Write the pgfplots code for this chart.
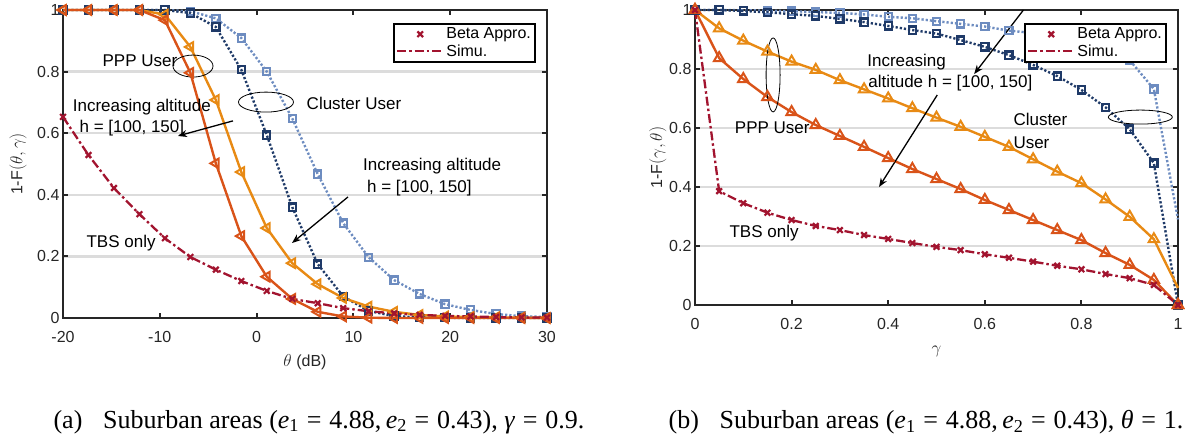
\documentclass[border=0pt]{standalone}
\usepackage{fontspec}
\setmainfont{Liberation Sans}
\newfontfamily\capfont{Liberation Serif}
\usepackage{pgfplots}
\usepackage{pgfplotstable}
\pgfplotsset{compat=1.18}
\usetikzlibrary{arrows.meta}
\definecolor{tbs}{HTML}{A2142F}
\definecolor{ppa}{HTML}{D95319}
\definecolor{ppb}{HTML}{E88A14}
\definecolor{cla}{HTML}{1F3A68}
\definecolor{clb}{HTML}{6D8CC0}
\definecolor{axc}{HTML}{262626}
\definecolor{gridc}{HTML}{DCDCDC}

\pgfplotstableread{
th tbs pa pb ca cb
-20 0.653 1 1 1 1
-17.368 0.529 1 1 1 1
-14.737 0.422 1 1 1 1
-12.105 0.337 1 1 1 1
-9.474 0.259 0.967 0.985 1 1
-6.842 0.198 0.796 0.880 0.990 0.996
-4.211 0.157 0.502 0.708 0.945 0.973
-1.579 0.120 0.266 0.474 0.806 0.909
1.053 0.088 0.134 0.292 0.594 0.800
3.684 0.062 0.062 0.178 0.360 0.648
6.316 0.048 0.020 0.110 0.175 0.467
8.947 0.032 0.005 0.065 0.070 0.308
11.579 0.022 0.001 0.037 0.023 0.197
14.211 0.015 0 0.020 0.006 0.123
16.842 0.010 0 0.010 0.002 0.078
19.474 0.007 0 0.005 0.001 0.045
22.105 0.005 0 0.003 0 0.026
24.737 0.003 0 0.002 0 0.013
27.368 0.002 0 0.001 0 0.006
30 0.001 0 0 0 0.003
}\lefttab

\pgfplotstableread{
g tbs pa pb pbl ca cb cbl
0 1 1 1 1 1 1 1
0.05 0.386 0.837 0.938 0.938 1.000 1.000 1.000
0.1 0.345 0.766 0.896 0.896 0.997 0.999 0.999
0.15 0.313 0.705 0.859 0.859 0.992 0.998 0.998
0.2 0.288 0.654 0.825 0.825 0.986 0.996 0.996
0.25 0.268 0.610 0.797 0.797 0.980 0.993 0.993
0.3 0.254 0.573 0.762 0.762 0.970 0.990 0.990
0.35 0.237 0.536 0.731 0.731 0.959 0.985 0.985
0.4 0.224 0.498 0.700 0.700 0.946 0.977 0.977
0.45 0.210 0.461 0.667 0.667 0.932 0.972 0.972
0.5 0.197 0.427 0.635 0.635 0.920 0.962 0.962
0.55 0.186 0.393 0.604 0.604 0.898 0.953 0.953
0.6 0.172 0.356 0.570 0.570 0.875 0.944 0.944
0.65 0.160 0.322 0.536 0.536 0.847 0.930 0.930
0.7 0.147 0.288 0.494 0.494 0.814 0.922 0.922
0.75 0.133 0.254 0.452 0.452 0.776 0.910 0.910
0.8 0.121 0.220 0.413 0.413 0.729 0.893 0.893
0.85 0.105 0.176 0.358 0.358 0.670 0.870 0.870
0.9 0.091 0.136 0.299 0.299 0.596 0.830 0.830
0.95 0.068 0.085 0.223 0.223 0.481 0.732 0.732
1 0 0 0 0.058 0 nan 0.290
}\righttab

\tikzset{
  annot/.style={font=\fontsize{17}{19}\selectfont, text=black},
  arr/.style={black, line width=1.3pt, -{Stealth[length=9pt,width=7pt]}},
}
\pgfplotsset{
  mystyle/.style={
    scale only axis, enlargelimits=false, clip=false,
    axis line style={axc, line width=2.2pt},
    every tick/.style={axc, line width=2pt},
    major tick length=5pt, tick align=inside,
    ymajorgrids, grid style={gridc, line width=2.5pt},
    tick label style={font=\fontsize{16}{18}\selectfont, text=axc},
    xticklabel style={yshift=-9.5pt},
    ymin=0, ymax=1, ytick={0,0.2,0.4,0.6,0.8,1},
    yticklabels={0,0.2,0.4,0.6,0.8,1},
    legend cell align=left,
    legend style={draw=black, line width=2pt, fill=white,
      font=\fontsize{16}{18}\selectfont, inner xsep=2pt, inner ysep=2pt,
      row sep=0pt, anchor=north east},
  },
  lineleg/.style={legend image code/.code={\draw[##1] (0pt,0pt) -- (46pt,0pt);}},
  markleg/.style={legend image code/.code={\draw[mark repeat=2,mark phase=2,##1] plot coordinates {(0pt,0pt)(23pt,0pt)(46pt,0pt)};}},
  tbsline/.style={tbs, line width=2.3pt, dash pattern=on 9pt off 3pt on 2.5pt off 3pt},
  tbsmark/.style={tbs, only marks, mark=x, mark size=4pt, line width=2.2pt},
  clline/.style={line width=2.4pt, dash pattern=on 2.2pt off 2pt, mark=square, mark size=3.6pt, mark options={solid, line width=2.2pt}},
}

\begin{document}
\begin{tikzpicture}
\useasboundingbox (0pt,0pt) rectangle (1192pt,437pt);

% ---------------- left axis ----------------
\begin{axis}[mystyle, at={(63pt,119pt)}, anchor=south west,
  width=484pt, height=308pt,
  xmin=-20, xmax=30, xtick={-20,-10,0,10,20,30},
  xticklabels={-20,-10,0,10,20,30},
  xlabel={$\theta$ (dB)}, ylabel={1-F$(\theta,\gamma)$},
  every axis x label/.style={at={(axis description cs:0.5,-0.143)}, anchor=center, font=\fontsize{16}{18}\selectfont, text=axc},
  every axis y label/.style={at={(axis description cs:-0.093,0.5)}, rotate=90, anchor=center, font=\fontsize{16}{18}\selectfont, text=axc},
  legend style={at={(0.977,0.958)}},
]
\addplot[forget plot, clb, clline, mark options={solid, line width=2.2pt, fill=white}] table[x=th,y=cb]{\lefttab};
\addplot[forget plot, cla, clline] table[x=th,y=ca]{\lefttab};
\addplot[forget plot, ppb, line width=2.4pt, mark=triangle, mark size=5.5pt, mark options={rotate=90, line width=2pt}] table[x=th,y=pb]{\lefttab};
\addplot[forget plot, ppa, line width=2.4pt, mark=triangle, mark size=5.5pt, mark options={rotate=90, line width=2pt}] table[x=th,y=pa]{\lefttab};
\addplot[tbsmark, markleg] table[x=th,y=tbs]{\lefttab};
\addlegendentry{Beta Appro.}
\addplot[tbsline, lineleg] table[x=th,y=tbs]{\lefttab};
\addlegendentry{Simu.}

\node[annot] at (axis cs:-12.05,0.834) {PPP User};
\draw[black, line width=0.8pt] (axis cs:-6.57,0.818) ellipse [x radius=20pt, y radius=11pt];
\draw[black, line width=0.8pt] (axis cs:0.97,0.701) ellipse [x radius=27.5pt, y radius=10pt];
\node[annot] at (axis cs:10.06,0.698) {Cluster User};
\node[annot, anchor=west, inner sep=0pt] at (axis cs:-19.0,0.685) {Increasing altitude};
\node[annot, anchor=west, inner sep=0pt] at (axis cs:-18.3,0.617) {h = [100, 150]};
\draw[arr] (axis cs:-2.44,0.640) -- (axis cs:-8.12,0.591);
\node[annot, anchor=west, inner sep=0pt] at (axis cs:10.99,0.494) {Increasing altitude};
\node[annot, anchor=west, inner sep=0pt] at (axis cs:11.40,0.422) {h = [100, 150]};
\draw[arr] (axis cs:9.44,0.393) -- (axis cs:3.66,0.2435);
\node[annot] at (axis cs:-14.0,0.2435) {TBS only};
\end{axis}

% ---------------- right axis ----------------
\begin{axis}[mystyle, at={(695pt,132pt)}, anchor=south west,
  width=483pt, height=295pt,
  xmin=0, xmax=1, xtick={0,0.2,0.4,0.6,0.8,1},
  xticklabels={0,0.2,0.4,0.6,0.8,1},
  xlabel={$\gamma$}, ylabel={1-F$(\gamma,\theta)$},
  every axis x label/.style={at={(axis description cs:0.5,-0.159)}, anchor=center, font=\fontsize{16}{18}\selectfont, text=axc},
  every axis y label/.style={at={(axis description cs:-0.077,0.5)}, rotate=90, anchor=center, font=\fontsize{16}{18}\selectfont, text=axc},
  legend style={at={(0.977,0.956)}},
]
\addplot[forget plot, clb, line width=2.4pt, dash pattern=on 2.2pt off 2pt] table[x=g,y=cbl]{\righttab};
\addplot[forget plot, clb, only marks, mark=square, mark size=3.6pt, mark options={solid, line width=2.2pt, fill=white}] table[x=g,y=cb]{\righttab};
\addplot[forget plot, cla, clline] table[x=g,y=ca]{\righttab};
\addplot[forget plot, ppb, line width=2.4pt] table[x=g,y=pbl]{\righttab};
\addplot[forget plot, ppb, only marks, mark=triangle, mark size=6pt, mark options={line width=2pt}] table[x=g,y=pb]{\righttab};
\addplot[forget plot, ppa, line width=2.4pt, mark=triangle, mark size=6pt, mark options={line width=2pt}] table[x=g,y=pa]{\righttab};
\addplot[tbsmark, markleg] table[x=g,y=tbs]{\righttab};
\addlegendentry{Beta Appro.}
\addplot[tbsline, lineleg] table[x=g,y=tbs]{\righttab};
\addlegendentry{Simu.}

\draw[black, line width=0.8pt] (axis cs:0.1617,0.78) ellipse [x radius=7pt, y radius=37pt];
\node[annot] at (axis cs:0.16,0.60) {PPP User};
\node[annot] at (axis cs:0.143,0.244) {TBS only};
\node[annot, anchor=west, inner sep=0pt] at (axis cs:0.3565,0.824) {Increasing};
\node[annot, anchor=west, inner sep=0pt] at (axis cs:0.3585,0.753) {altitude h = [100, 150]};
\draw[arr] (axis cs:0.68,1.0) -- (axis cs:0.578,0.783);
\draw[arr] (axis cs:0.5016,0.712) -- (axis cs:0.381,0.40);
\draw[black, line width=0.8pt] (axis cs:0.922,0.637) ellipse [x radius=32pt, y radius=7pt];
\node[annot, anchor=west, inner sep=0pt] at (axis cs:0.659,0.63) {Cluster};
\node[annot, anchor=west, inner sep=0pt] at (axis cs:0.659,0.549) {User};
\end{axis}

\node[font=\capfont\fontsize{26}{30}\selectfont] at (319pt,15pt)
  {(a)\hspace{0.55em} Suburban areas (\textit{e}\textsubscript{1}\hspace{0.3em}=\hspace{0.3em}4.88,\hspace{0.17em}\textit{e}\textsubscript{2}\hspace{0.3em}=\hspace{0.3em}0.43), \textit{γ}\hspace{0.3em}=\hspace{0.3em}0.9.};
\node[font=\capfont\fontsize{26}{30}\selectfont] at (926pt,15pt)
  {(b)\hspace{0.55em} Suburban areas (\textit{e}\textsubscript{1}\hspace{0.3em}=\hspace{0.3em}4.88,\hspace{0.17em}\textit{e}\textsubscript{2}\hspace{0.3em}=\hspace{0.3em}0.43), \textit{θ}\hspace{0.3em}=\hspace{0.3em}1.};
\end{tikzpicture}
\end{document}
